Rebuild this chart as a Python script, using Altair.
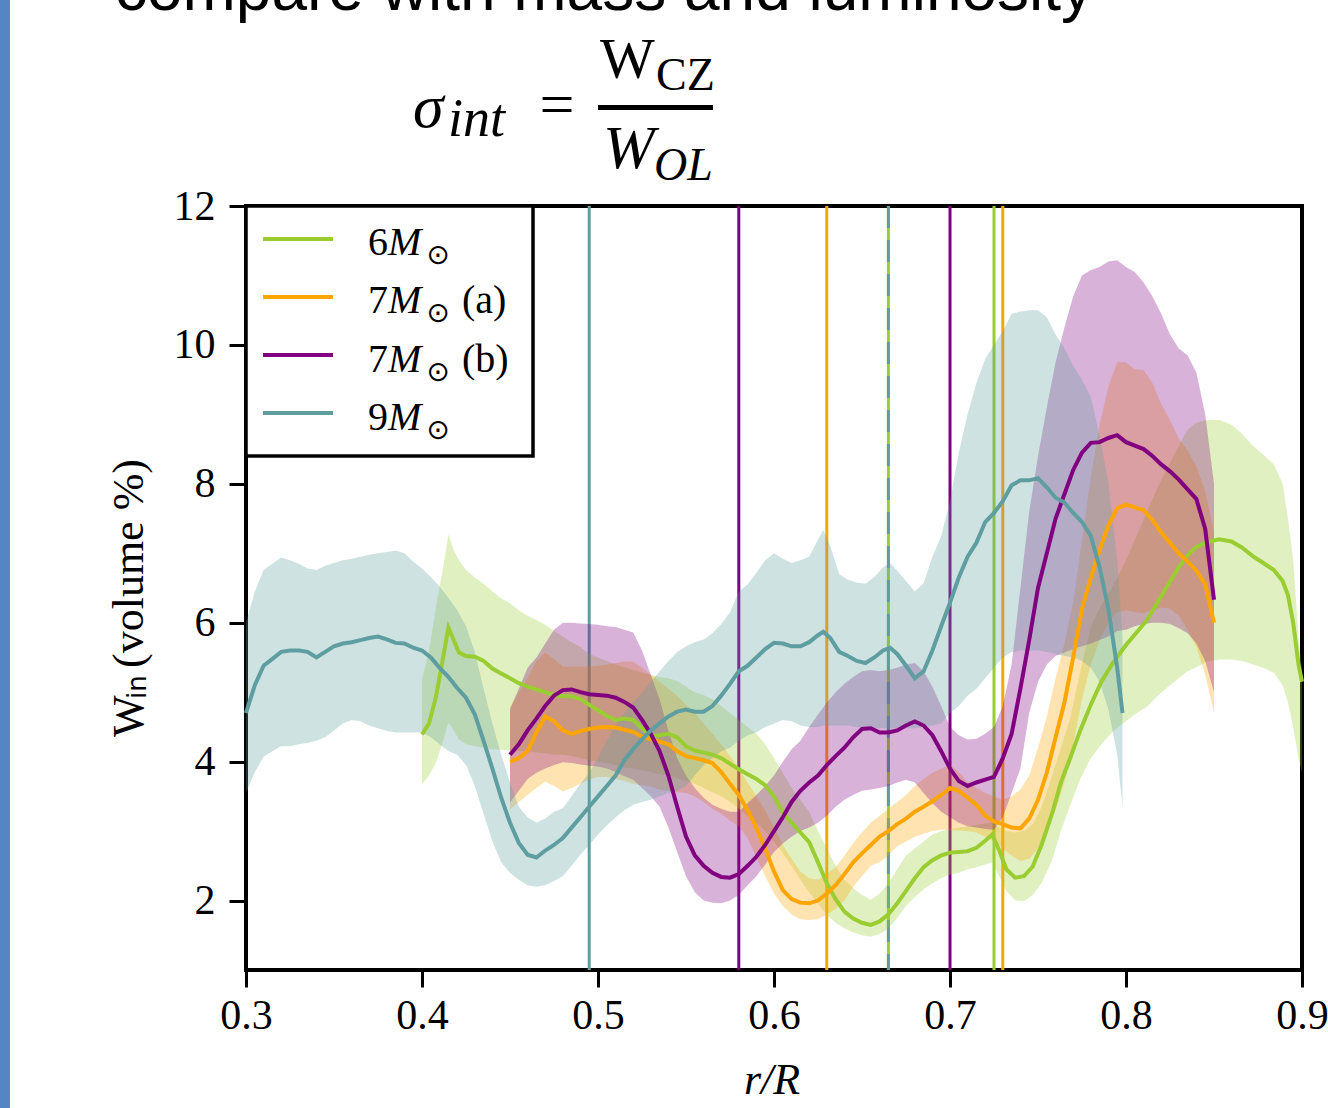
import altair as alt
import pandas as pd

SERIF = "Liberation Serif"
SANS = "Liberation Sans"

SERIES = ["6M", "7Ma", "7Mb", "9M"]
COLORS = ["#9acd32", "#ffa500", "#800080", "#5f9ea0"]

# ---------------- 9 M_sun (teal) ----------------
X_9 = [0.300, 0.305, 0.310, 0.315, 0.320, 0.325, 0.330, 0.335, 0.340, 0.345, 0.350, 0.355, 0.360, 0.365,
       0.370, 0.375, 0.380, 0.385, 0.390, 0.395, 0.400, 0.405, 0.410, 0.415, 0.420, 0.425, 0.430, 0.435,
       0.440, 0.445, 0.450, 0.455, 0.460, 0.465, 0.470, 0.475, 0.480, 0.485, 0.490, 0.495, 0.500, 0.505,
       0.510, 0.515, 0.520, 0.525, 0.530, 0.535, 0.540, 0.545, 0.550, 0.555, 0.560, 0.565, 0.570, 0.575,
       0.580, 0.585, 0.590, 0.595, 0.600, 0.605, 0.610, 0.615, 0.620, 0.625, 0.628, 0.632, 0.637, 0.642,
       0.647, 0.652, 0.657, 0.662, 0.666, 0.670, 0.675, 0.680, 0.685, 0.690, 0.695, 0.700, 0.705, 0.710,
       0.715, 0.720, 0.725, 0.730, 0.735, 0.740, 0.745, 0.750, 0.755, 0.760, 0.765, 0.770, 0.775, 0.780,
       0.785, 0.790, 0.795, 0.798]
MID_9 = [4.70, 5.10, 5.38, 5.48, 5.58, 5.60, 5.60, 5.58, 5.50, 5.58, 5.66, 5.70, 5.72, 5.75,
         5.78, 5.80, 5.76, 5.71, 5.70, 5.64, 5.60, 5.50, 5.35, 5.22, 5.06, 4.92, 4.68, 4.30,
         3.90, 3.48, 3.12, 2.83, 2.66, 2.62, 2.72, 2.80, 2.90, 3.05, 3.20, 3.35, 3.50, 3.65,
         3.80, 4.02, 4.18, 4.32, 4.45, 4.55, 4.65, 4.72, 4.75, 4.72, 4.72, 4.80, 4.95, 5.12,
         5.30, 5.38, 5.50, 5.62, 5.71, 5.70, 5.66, 5.66, 5.72, 5.82, 5.87, 5.78, 5.58, 5.52,
         5.45, 5.42, 5.50, 5.60, 5.64, 5.55, 5.38, 5.20, 5.30, 5.60, 5.95, 6.29, 6.65, 6.95,
         7.15, 7.45, 7.58, 7.75, 7.98, 8.05, 8.05, 8.08, 7.95, 7.80, 7.73, 7.58, 7.45, 7.25,
         6.80, 6.20, 5.35, 4.70]
LO_9 = [3.55, 3.85, 4.07, 4.15, 4.22, 4.22, 4.25, 4.27, 4.30, 4.35, 4.45, 4.55, 4.60, 4.58,
        4.52, 4.48, 4.44, 4.42, 4.42, 4.42, 4.42, 4.35, 4.25, 4.15, 4.10, 3.95, 3.65, 3.25,
        2.85, 2.55, 2.40, 2.30, 2.22, 2.20, 2.22, 2.28, 2.35, 2.50, 2.66, 2.80, 2.95, 3.08,
        3.20, 3.30, 3.38, 3.42, 3.45, 3.50, 3.55, 3.58, 3.65, 3.80, 3.95, 4.05, 4.15, 4.20,
        4.30, 4.38, 4.42, 4.50, 4.55, 4.60, 4.58, 4.52, 4.50, 4.50, 4.52, 4.52, 4.52, 4.52,
        4.50, 4.48, 4.48, 4.48, 4.48, 4.48, 4.48, 4.48, 4.50, 4.52, 4.55, 4.70, 4.80, 4.95,
        5.05, 5.20, 5.35, 5.50, 5.58, 5.60, 5.60, 5.60, 5.58, 5.55, 5.52, 5.50, 5.45, 5.35,
        5.15, 4.75, 4.10, 3.35]
HI_9 = [6.00, 6.45, 6.76, 6.85, 6.94, 6.90, 6.85, 6.78, 6.76, 6.82, 6.86, 6.90, 6.92, 6.95,
        6.98, 7.00, 7.02, 7.04, 7.00, 6.88, 6.78, 6.66, 6.52, 6.36, 6.18, 5.95, 5.58, 5.05,
        4.55, 4.10, 3.70, 3.35, 3.20, 3.12, 3.18, 3.28, 3.33, 3.50, 3.68, 3.84, 4.05, 4.30,
        4.52, 4.70, 4.85, 4.98, 5.15, 5.30, 5.45, 5.58, 5.66, 5.72, 5.76, 5.85, 5.98, 6.15,
        6.45, 6.55, 6.72, 6.90, 7.00, 6.92, 6.86, 6.90, 6.95, 7.20, 7.34, 7.10, 6.70, 6.62,
        6.58, 6.56, 6.66, 6.80, 6.86, 6.75, 6.60, 6.45, 6.57, 6.95, 7.25, 7.75, 8.45, 9.00,
        9.45, 9.80, 10.00, 10.20, 10.45, 10.48, 10.50, 10.50, 10.40, 10.15, 9.95, 9.70, 9.50, 9.25,
        8.70, 8.00, 6.90, 5.80]

# ---------------- 6 M_sun (green) ----------------
X_6 = [0.400, 0.404, 0.408, 0.412, 0.415, 0.418, 0.421, 0.425, 0.430, 0.435, 0.440, 0.445, 0.450, 0.455,
       0.460, 0.465, 0.470, 0.475, 0.480, 0.485, 0.490, 0.495, 0.500, 0.505, 0.510, 0.515, 0.520, 0.525,
       0.530, 0.535, 0.540, 0.545, 0.550, 0.555, 0.560, 0.565, 0.570, 0.575, 0.580, 0.585, 0.590, 0.595,
       0.600, 0.605, 0.610, 0.615, 0.620, 0.625, 0.630, 0.635, 0.640, 0.645, 0.650, 0.655, 0.660, 0.665,
       0.670, 0.675, 0.680, 0.685, 0.690, 0.695, 0.700, 0.705, 0.710, 0.715, 0.720, 0.724, 0.728, 0.732,
       0.737, 0.742, 0.747, 0.752, 0.758, 0.763, 0.768, 0.774, 0.780, 0.786, 0.792, 0.800, 0.806, 0.812,
       0.818, 0.824, 0.830, 0.835, 0.840, 0.846, 0.853, 0.860, 0.866, 0.872, 0.878, 0.884, 0.889, 0.892,
       0.895, 0.898, 0.900]
MID_6 = [4.39, 4.55, 4.94, 5.50, 5.93, 5.75, 5.57, 5.52, 5.51, 5.45, 5.34, 5.27, 5.20, 5.13,
         5.08, 5.04, 5.00, 4.96, 4.94, 4.94, 4.90, 4.82, 4.74, 4.66, 4.60, 4.62, 4.60, 4.48,
         4.36, 4.38, 4.40, 4.35, 4.22, 4.16, 4.13, 4.10, 4.05, 3.97, 3.89, 3.82, 3.75, 3.66,
         3.50, 3.27, 3.12, 2.98, 2.84, 2.55, 2.25, 2.02, 1.84, 1.74, 1.68, 1.65, 1.70, 1.80,
         1.96, 2.14, 2.32, 2.48, 2.58, 2.65, 2.69, 2.70, 2.71, 2.76, 2.86, 2.95, 2.72, 2.45,
         2.33, 2.35, 2.49, 2.80, 3.25, 3.70, 4.03, 4.45, 4.82, 5.15, 5.40, 5.68, 5.86, 6.04,
         6.30, 6.55, 6.80, 6.97, 7.09, 7.16, 7.20, 7.17, 7.08, 6.96, 6.86, 6.76, 6.60, 6.40,
         6.00, 5.40, 5.15]
LO_6 = [3.67, 3.80, 3.99, 4.30, 4.56, 4.45, 4.32, 4.25, 4.22, 4.20, 4.18, 4.17, 4.16, 4.15,
        4.15, 4.13, 4.12, 4.10, 4.10, 4.08, 4.05, 4.02, 4.00, 3.98, 3.95, 3.92, 3.90, 3.88,
        3.85, 3.82, 3.80, 3.76, 3.72, 3.68, 3.62, 3.56, 3.50, 3.42, 3.32, 3.22, 3.12, 3.00,
        2.85, 2.68, 2.50, 2.30, 2.12, 1.95, 1.80, 1.68, 1.60, 1.54, 1.50, 1.48, 1.52, 1.60,
        1.75, 1.92, 2.05, 2.16, 2.25, 2.32, 2.37, 2.40, 2.45, 2.48, 2.52, 2.55, 2.35, 2.14,
        2.00, 1.99, 2.08, 2.25, 2.58, 3.00, 3.35, 3.75, 4.05, 4.25, 4.42, 4.58, 4.70, 4.79,
        4.95, 5.08, 5.20, 5.30, 5.36, 5.44, 5.47, 5.47, 5.45, 5.40, 5.35, 5.28, 5.10, 4.85,
        4.50, 4.05, 3.85]
HI_6 = [5.18, 5.60, 6.23, 6.80, 7.27, 7.05, 6.90, 6.76, 6.65, 6.56, 6.45, 6.35, 6.28, 6.18,
        6.10, 6.04, 5.97, 5.88, 5.80, 5.72, 5.65, 5.55, 5.50, 5.45, 5.40, 5.36, 5.32, 5.28,
        5.25, 5.22, 5.20, 5.16, 5.08, 5.00, 4.96, 4.90, 4.80, 4.70, 4.60, 4.50, 4.40, 4.25,
        4.05, 3.84, 3.62, 3.45, 3.28, 3.00, 2.75, 2.50, 2.30, 2.18, 2.08, 2.01, 2.10, 2.25,
        2.45, 2.65, 2.75, 2.85, 2.95, 3.00, 3.03, 3.05, 3.07, 3.09, 3.11, 3.12, 3.05, 3.00,
        2.98, 3.00, 3.10, 3.35, 3.80, 4.20, 4.60, 5.30, 5.95, 6.25, 6.50, 6.90, 7.25, 7.60,
        7.95, 8.25, 8.55, 8.78, 8.88, 8.92, 8.92, 8.85, 8.72, 8.55, 8.42, 8.28, 8.00, 7.50,
        6.90, 5.80, 5.30]

# ---------------- 7 M_sun (a) (orange) ----------------
X_7A = [0.450, 0.455, 0.460, 0.465, 0.470, 0.475, 0.480, 0.485, 0.490, 0.495, 0.500, 0.505, 0.510, 0.515,
        0.520, 0.525, 0.530, 0.535, 0.540, 0.545, 0.550, 0.555, 0.560, 0.565, 0.570, 0.575, 0.580, 0.585,
        0.590, 0.595, 0.600, 0.605, 0.610, 0.615, 0.620, 0.625, 0.630, 0.635, 0.640, 0.645, 0.650, 0.655,
        0.660, 0.665, 0.670, 0.675, 0.680, 0.685, 0.690, 0.695, 0.700, 0.705, 0.710, 0.715, 0.720, 0.725,
        0.730, 0.735, 0.740, 0.745, 0.750, 0.755, 0.760, 0.765, 0.770, 0.775, 0.780, 0.785, 0.790, 0.795,
        0.800, 0.805, 0.810, 0.815, 0.820, 0.825, 0.830, 0.835, 0.840, 0.845, 0.850]
MID_7A = [4.00, 4.05, 4.15, 4.42, 4.65, 4.58, 4.45, 4.40, 4.44, 4.47, 4.49, 4.50, 4.49, 4.46,
          4.43, 4.36, 4.32, 4.29, 4.25, 4.15, 4.08, 4.05, 4.02, 3.98, 3.85, 3.68, 3.52, 3.30,
          3.05, 2.75, 2.42, 2.15, 2.02, 1.97, 1.96, 2.00, 2.10, 2.22, 2.38, 2.55, 2.68, 2.80,
          2.92, 3.00, 3.10, 3.18, 3.28, 3.35, 3.43, 3.52, 3.62, 3.58, 3.48, 3.38, 3.22, 3.14,
          3.10, 3.05, 3.04, 3.18, 3.45, 3.84, 4.35, 4.85, 5.50, 6.20, 6.65, 7.05, 7.40, 7.65,
          7.70, 7.66, 7.62, 7.48, 7.30, 7.15, 7.00, 6.88, 6.75, 6.55, 6.00]
LO_7A = [3.31, 3.42, 3.52, 3.62, 3.71, 3.65, 3.57, 3.62, 3.68, 3.74, 3.78, 3.78, 3.75, 3.72,
         3.68, 3.66, 3.64, 3.60, 3.58, 3.56, 3.55, 3.50, 3.42, 3.32, 3.25, 3.15, 3.07, 2.90,
         2.62, 2.35, 2.10, 1.92, 1.80, 1.73, 1.72, 1.73, 1.80, 1.88, 2.00, 2.20, 2.35, 2.50,
         2.55, 2.65, 2.78, 2.85, 2.92, 2.96, 3.00, 3.02, 3.02, 3.01, 3.00, 2.98, 2.92, 2.85,
         2.75, 2.65, 2.57, 2.60, 2.75, 3.00, 3.30, 3.70, 4.25, 4.90, 5.40, 5.75, 6.00, 6.15,
         6.18, 6.15, 6.14, 6.18, 6.22, 6.20, 6.10, 5.90, 5.65, 5.25, 4.70]
HI_7A = [4.79, 5.00, 5.20, 5.45, 5.57, 5.48, 5.37, 5.37, 5.37, 5.37, 5.38, 5.40, 5.42, 5.44,
         5.44, 5.35, 5.25, 5.15, 5.05, 4.95, 4.82, 4.70, 4.55, 4.40, 4.25, 4.08, 3.90, 3.70,
         3.50, 3.30, 3.05, 2.80, 2.60, 2.42, 2.32, 2.30, 2.38, 2.48, 2.65, 2.83, 2.98, 3.12,
         3.22, 3.32, 3.42, 3.52, 3.65, 3.75, 3.84, 3.90, 3.95, 3.85, 3.70, 3.62, 3.55, 3.50,
         3.45, 3.50, 3.60, 3.80, 4.20, 4.65, 5.20, 5.70, 6.30, 7.20, 8.10, 8.85, 9.40, 9.75,
         9.75, 9.65, 9.64, 9.45, 9.15, 8.92, 8.65, 8.48, 8.25, 7.90, 7.30]

# ---------------- 7 M_sun (b) (purple) ----------------
X_7B = [0.450, 0.455, 0.460, 0.465, 0.470, 0.475, 0.480, 0.485, 0.490, 0.495, 0.500, 0.505, 0.510, 0.515,
        0.520, 0.525, 0.530, 0.535, 0.540, 0.545, 0.550, 0.555, 0.560, 0.565, 0.570, 0.575, 0.580, 0.585,
        0.590, 0.595, 0.600, 0.605, 0.610, 0.615, 0.620, 0.625, 0.630, 0.635, 0.640, 0.645, 0.650, 0.655,
        0.660, 0.665, 0.670, 0.675, 0.680, 0.685, 0.690, 0.695, 0.700, 0.705, 0.710, 0.715, 0.720, 0.725,
        0.730, 0.735, 0.740, 0.745, 0.750, 0.755, 0.760, 0.765, 0.770, 0.775, 0.780, 0.785, 0.790, 0.795,
        0.800, 0.805, 0.810, 0.815, 0.820, 0.825, 0.830, 0.835, 0.840, 0.845, 0.850]
MID_7B = [4.10, 4.25, 4.45, 4.62, 4.80, 4.95, 5.03, 5.04, 5.00, 4.97, 4.96, 4.95, 4.92, 4.86,
          4.78, 4.60, 4.40, 4.15, 3.80, 3.35, 2.92, 2.65, 2.50, 2.40, 2.34, 2.33, 2.38, 2.50,
          2.63, 2.80, 3.00, 3.20, 3.42, 3.58, 3.70, 3.80, 3.95, 4.08, 4.20, 4.35, 4.47, 4.48,
          4.42, 4.42, 4.45, 4.52, 4.58, 4.52, 4.38, 4.15, 3.90, 3.72, 3.65, 3.70, 3.74, 3.78,
          4.05, 4.40, 5.05, 5.75, 6.50, 7.00, 7.50, 7.85, 8.20, 8.45, 8.59, 8.60, 8.66, 8.70,
          8.60, 8.55, 8.50, 8.40, 8.28, 8.18, 8.06, 7.92, 7.78, 7.35, 6.33]
LO_7B = [3.41, 3.58, 3.75, 3.84, 3.90, 3.95, 3.99, 3.98, 3.96, 3.94, 3.93, 3.90, 3.85, 3.79,
         3.74, 3.62, 3.50, 3.35, 3.05, 2.70, 2.35, 2.12, 2.00, 1.97, 1.96, 2.00, 2.08, 2.22,
         2.35, 2.52, 2.70, 2.82, 2.92, 3.00, 3.05, 3.12, 3.22, 3.35, 3.45, 3.52, 3.58, 3.60,
         3.62, 3.65, 3.70, 3.74, 3.70, 3.55, 3.40, 3.28, 3.20, 3.12, 3.07, 3.05, 3.03, 3.02,
         3.20, 3.55, 3.90, 4.70, 5.15, 5.40, 5.52, 5.57, 5.62, 5.66, 5.70, 5.75, 5.80, 5.88,
         5.90, 5.95, 5.98, 6.00, 6.00, 5.98, 5.92, 5.85, 5.70, 5.45, 5.00]
HI_7B = [4.75, 5.05, 5.35, 5.50, 5.70, 5.90, 6.00, 6.00, 5.99, 5.98, 5.97, 5.95, 5.94, 5.90,
         5.86, 5.60, 5.25, 4.90, 4.45, 4.05, 3.80, 3.62, 3.48, 3.38, 3.32, 3.28, 3.28, 3.40,
         3.52, 3.65, 3.80, 4.00, 4.18, 4.30, 4.50, 4.68, 4.85, 5.00, 5.12, 5.22, 5.30, 5.32,
         5.30, 5.32, 5.35, 5.40, 5.42, 5.30, 5.08, 4.80, 4.50, 4.38, 4.32, 4.33, 4.40, 4.50,
         4.80, 5.40, 6.50, 7.60, 8.40, 9.10, 9.75, 10.25, 10.70, 11.00, 11.08, 11.12, 11.20, 11.22,
         11.12, 11.05, 10.90, 10.70, 10.45, 10.15, 9.95, 9.85, 9.60, 9.00, 8.00]

# convective-boundary markers (r/R) per model
VLINE_X = [0.665, 0.725, 0.630, 0.730, 0.580, 0.700, 0.495]
VLINE_S = ["6M", "6M", "7Ma", "7Ma", "7Mb", "7Mb", "9M"]
VDASH_X = [0.665]
VDASH_S = ["9M"]

LEGEND_NUM = ["6", "7", "7", "9"]
LEGEND_SUFFIX = ["", "(a)", "(b)", ""]

X_TICKS = [0.3, 0.4, 0.5, 0.6, 0.7, 0.8, 0.9]
Y_TICKS = [2, 4, 6, 8, 10, 12]

TITLE = "compare with mass and luminosity"

# ---------------- build ----------------
W, H = 1056, 764

xscale = alt.Scale(domain=[0.3, 0.9], nice=False, zero=False)
yscale = alt.Scale(domain=[1, 12], nice=False, zero=False)
xaxis = alt.Axis(values=X_TICKS, format=".1f", title=None, grid=False, domain=False,
                 tickSize=17, tickWidth=3, tickColor="black", labelFont=SERIF,
                 labelFontSize=42, labelColor="black", labelPadding=8,
                 labelFlush=False, labelOverlap=False)
yaxis = alt.Axis(values=Y_TICKS, format="d", title=None, grid=False, domain=False,
                 tickSize=17, tickWidth=3, tickColor="black", labelFont=SERIF,
                 labelFontSize=42, labelColor="black", labelPadding=14,
                 labelOverlap=False)

frames = {
    "6M": pd.DataFrame({"x": X_6, "mid": MID_6, "lo": LO_6, "hi": HI_6}),
    "7Ma": pd.DataFrame({"x": X_7A, "mid": MID_7A, "lo": LO_7A, "hi": HI_7A}),
    "7Mb": pd.DataFrame({"x": X_7B, "mid": MID_7B, "lo": LO_7B, "hi": HI_7B}),
    "9M": pd.DataFrame({"x": X_9, "mid": MID_9, "lo": LO_9, "hi": HI_9}),
}
cmap = dict(zip(SERIES, COLORS))

one = pd.DataFrame({"a": [0]})


def txt(s, x, y, size, font=SERIF, style="normal", align="left", baseline="alphabetic", angle=0):
    kw = dict(text=s, font=font, fontSize=size, fontStyle=style, align=align,
              baseline=baseline, color="black")
    if angle:
        kw["angle"] = angle
    return alt.Chart(one).mark_text(**kw).encode(x=alt.value(x), y=alt.value(y))


layers = []

# vertical boundary lines
vdf = pd.DataFrame({"x": VLINE_X, "series": VLINE_S})
layers.append(
    alt.Chart(vdf).mark_rule(strokeWidth=3).encode(
        x=alt.X("x:Q", scale=xscale, axis=xaxis),
        color=alt.Color("series:N", scale=alt.Scale(domain=SERIES, range=COLORS), legend=None),
    )
)
ddf = pd.DataFrame({"x": VDASH_X, "series": VDASH_S})
layers.append(
    alt.Chart(ddf).mark_rule(strokeWidth=3, strokeDash=[22, 12]).encode(
        x=alt.X("x:Q", scale=xscale, axis=xaxis),
        color=alt.Color("series:N", scale=alt.Scale(domain=SERIES, range=COLORS), legend=None),
    )
)

# shaded bands
for s in SERIES:
    layers.append(
        alt.Chart(frames[s]).mark_area(opacity=0.3, color=cmap[s]).encode(
            x=alt.X("x:Q", scale=xscale, axis=xaxis),
            y=alt.Y("lo:Q", scale=yscale, axis=yaxis),
            y2="hi:Q",
        )
    )
# mean lines
for s in SERIES:
    layers.append(
        alt.Chart(frames[s]).mark_line(strokeWidth=4, color=cmap[s]).encode(
            x=alt.X("x:Q", scale=xscale, axis=xaxis),
            y=alt.Y("mid:Q", scale=yscale, axis=yaxis),
        )
    )

# legend box
layers.append(
    alt.Chart(one).mark_rect(fill="white", stroke="black", strokeWidth=3.5).encode(
        x=alt.value(0), x2=alt.value(287), y=alt.value(0), y2=alt.value(250)
    )
)
for i, s in enumerate(SERIES):
    ly = 33 + 58 * i
    tb = 49 + 58.3 * i
    layers.append(
        alt.Chart(one).mark_rule(strokeWidth=4, color=cmap[s]).encode(
            x=alt.value(17), x2=alt.value(87), y=alt.value(ly)
        )
    )
    layers.append(txt(LEGEND_NUM[i], 122, tb, 40))
    layers.append(txt("M", 142, tb, 40, style="italic"))
    layers.append(txt("\u2299", 192, tb + 1, 28, font="DejaVu Sans", align="center", baseline="middle"))
    if LEGEND_SUFFIX[i]:
        layers.append(txt(LEGEND_SUFFIX[i], 216, tb, 40))

# axis titles
layers.append(txt("r/R", 526, 888, 44, style="italic", align="center"))
layers.append(txt("W", -103, 531, 44, angle=270))
layers.append(txt("in", -100, 493, 26, font="DejaVu Sans", angle=270))
layers.append(txt("(volume %)", -103, 462, 44, angle=270))

# slide decorations: cut-off heading, formula, side bar
layers.append(
    alt.Chart(one).mark_rect(color="#5486c6").encode(
        x=alt.value(-246), x2=alt.value(-236), y=alt.value(-206), y2=alt.value(902)
    )
)
layers.append(txt(TITLE, 358, -196, 64, font=SANS, align="center"))
layers.append(txt("\u03c3", 167, -79, 62, style="italic"))
layers.append(txt("int", 202, -70, 54, style="italic"))
layers.append(txt("=", 311, -81, 62, align="center"))
layers.append(
    alt.Chart(one).mark_rule(strokeWidth=5, color="black").encode(
        x=alt.value(352), x2=alt.value(467), y=alt.value(-98.5)
    )
)
layers.append(txt("W", 354, -128, 58))
layers.append(txt("CZ", 410, -116, 46))
layers.append(txt("W", 357, -38, 62, style="italic"))
layers.append(txt("OL", 408, -26, 46, style="italic"))

chart = alt.layer(*layers).properties(
    width=W, height=H,
    padding={"left": 246, "top": 206, "right": 26, "bottom": 138},
    autosize=alt.AutoSizeParams(type="none"),
    background="white",
).configure_view(stroke="black", strokeWidth=4)

chart.save("out.html", embed_options={"renderer": "svg", "actions": False})
